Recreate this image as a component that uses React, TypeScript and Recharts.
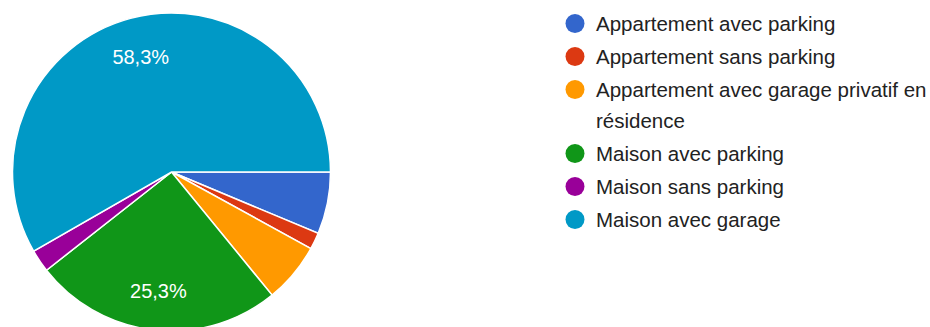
import { PieChart, Pie, Cell, Legend } from 'recharts'

const CATEGORIES = [
  'Appartement avec parking',
  'Appartement sans parking',
  'Appartement avec garage privatif en résidence',
  'Maison avec parking',
  'Maison sans parking',
  'Maison avec garage',
]
const PERCENTS = [6.3, 1.7, 6.1, 25.3, 2.3, 58.3]
const COLORS = ['#3366cc', '#dc3912', '#ff9900', '#109618', '#990099', '#0099c6']

const FONT = 'Arial, "Liberation Sans", sans-serif'
const RAD = Math.PI / 180

const data = CATEGORIES.map((name, i) => ({ name, value: PERCENTS[i] }))

function renderLabel({ cx, cy, midAngle, outerRadius, percent }: any) {
  if (percent < 0.1) return null
  const r = outerRadius * 0.75
  const x = cx + r * Math.cos(-midAngle * RAD)
  const y = cy + r * Math.sin(-midAngle * RAD)
  return (
    <text x={x} y={y} fill="#ffffff" fontSize={20} fontFamily={FONT}
      textAnchor="middle" dominantBaseline="central">
      {(percent * 100).toFixed(1).replace('.', ',')}%
    </text>
  )
}

function LegendContent() {
  return (
    <div style={{ fontFamily: FONT, fontSize: 20.5, color: '#222222' }}>
      {data.map((d, i) => (
        <div key={d.name} style={{ display: 'flex', alignItems: 'flex-start', marginBottom: 2 }}>
          <svg width={20} height={31} style={{ flex: 'none' }}>
            <circle cx={10} cy={15.5} r={9.5} fill={COLORS[i]} />
          </svg>
          <span style={{ marginLeft: 11, lineHeight: '31px' }}>{d.name}</span>
        </div>
      ))}
    </div>
  )
}

export default function App() {
  return (
    <div style={{ position: 'absolute', left: 0, top: 0, width: 930, height: 327, background: '#fff', overflow: 'hidden' }}>
      <PieChart width={930} height={327} margin={{ top: 0, right: 0, bottom: 0, left: 0 }}>
        <Pie
          data={data}
          dataKey="value"
          nameKey="name"
          cx={171.5}
          cy={172}
          outerRadius={159}
          startAngle={0}
          endAngle={-360}
          stroke="#ffffff"
          strokeWidth={1.5}
          label={renderLabel}
          labelLine={false}
          isAnimationActive={false}
        >
          {data.map((_, i) => (
            <Cell key={i} fill={COLORS[i]} />
          ))}
        </Pie>
        <Legend
          layout="vertical"
          align="right"
          verticalAlign="top"
          content={<LegendContent />}
          wrapperStyle={{ left: 565, top: 7.5, width: 365 }}
        />
      </PieChart>
    </div>
  )
}
